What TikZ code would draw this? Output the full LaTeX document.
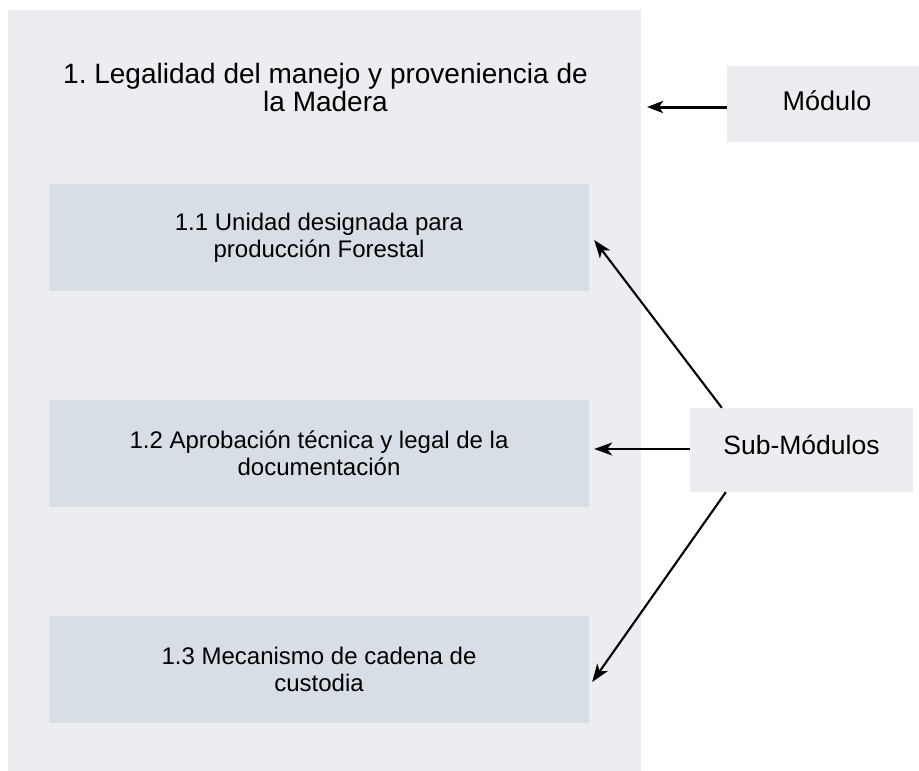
\documentclass[tikz,border=0pt]{standalone}
\usepackage{fontspec}
\setmainfont{Liberation Sans}
\usetikzlibrary{arrows.meta}
\definecolor{panelgray}{HTML}{ECEDF1}
\definecolor{subblue}{HTML}{D7DEE5}
\frenchspacing
\begin{document}
\begin{tikzpicture}[x=1pt,y=-1pt,
  panelbox/.style={fill=panelgray, draw=none, inner sep=0pt, minimum width=633pt, minimum height=761pt},
  subbox/.style={fill=subblue, draw=none, inner sep=0pt, minimum width=540pt, minimum height=107pt,
    align=center, font=\fontsize{24}{27}\selectfont},
  sidebox/.style={fill=panelgray, draw=none, inner sep=0pt, align=center},
  arr/.style={-{Stealth[length=18pt,width=13pt,inset=5pt]}, line width=2.1pt, black},
  arrthick/.style={-{Stealth[length=16pt,width=12pt,inset=4pt]}, line width=3pt, black}]
\useasboundingbox (0,0) rectangle (919,771);
\node[panelbox] (panel) at (324.5,390.5) {};
\node[align=center, font=\fontsize{28}{28}\selectfont] (title) at (325.5,87)
  {1. Legalidad del manejo y proveniencia de\\la Madera};
\node[subbox] (s1) at (319,237.5) {1.1 Unidad designada para\\producción Forestal};
\node[subbox] (s2) at (319,453) {1.2 Aprobación técnica y legal de la\\documentación};
\node[subbox] (s3) at (319,669) {1.3 Mecanismo de cadena de\\custodia};
\node[sidebox, minimum width=192pt, minimum height=76pt, font=\fontsize{27}{27}\selectfont] (mod) at (823,104)
  {\raisebox{6pt}{\hspace{8pt}Módulo}};
\node[sidebox, minimum width=223pt, minimum height=84pt, font=\fontsize{26.5}{26.5}\selectfont] (sub) at (801.5,450)
  {\raisebox{10pt}{Sub-Módulos}};
\coordinate (modtip) at (647,107);
\draw[arrthick] ([yshift=-3pt]mod.west) -- (modtip);
\draw[arr] ([xshift=32pt]sub.north west) -- ([xshift=5pt,yshift=-2.5pt]s1.east);
\draw[arr] ([yshift=1pt]sub.west) -- ([xshift=5pt,yshift=4pt]s2.east);
\draw[arr] ([xshift=36pt]sub.south west) -- ([xshift=3pt,yshift=-13pt]s3.east);
\end{tikzpicture}
\end{document}
